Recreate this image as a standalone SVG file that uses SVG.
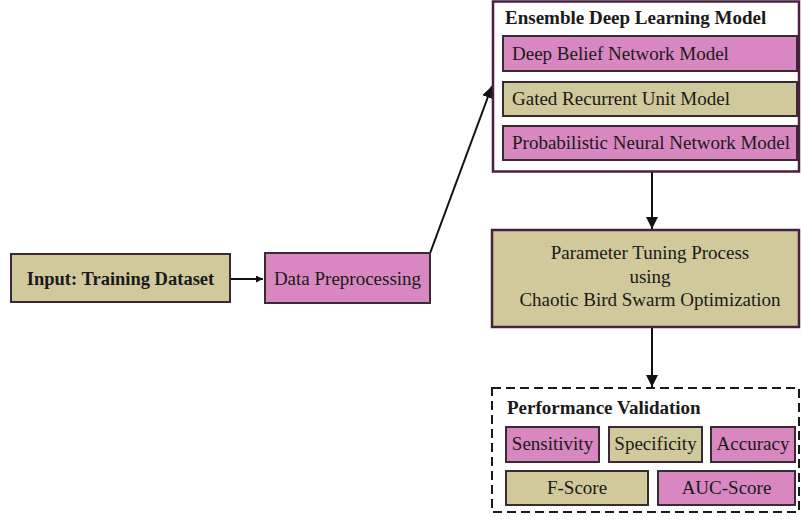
<svg xmlns="http://www.w3.org/2000/svg" width="801" height="525" viewBox="0 0 801 525">
<style>
text{font-family:"Liberation Serif","Times New Roman",serif;font-size:19px;fill:#1a1a1a}
.b{font-weight:bold}
.pk{fill:#d887c0;stroke:#3a2a33;stroke-width:2}
.kh{fill:#cfc99b;stroke:#3a2a33;stroke-width:2}
.outer{fill:#fff;stroke:#4a2040;stroke-width:2.5}
.dash{fill:#fff;stroke:#1a1a1a;stroke-width:2;stroke-dasharray:9,5}
.c{stroke:#111;stroke-width:2;fill:none}
</style>
<defs>
<marker id="ah" viewBox="0 0 10 10" refX="10" refY="5" markerWidth="7" markerHeight="7" markerUnits="userSpaceOnUse" orient="auto">
<path d="M0,0 L10,5 L0,10 z" fill="#111"/>
</marker>
<marker id="ah2" viewBox="0 0 10 10" refX="10" refY="5" markerWidth="12" markerHeight="12" markerUnits="userSpaceOnUse" orient="auto">
<path d="M0,0 L10,5 L0,10 z" fill="#111"/>
</marker>
</defs>
<g id="connectors">
<line class="c" x1="231" y1="279" x2="263" y2="279" marker-end="url(#ah)"/>
<line class="c" x1="429" y1="256" x2="492" y2="86" marker-end="url(#ah2)"/>
<line class="c" x1="652" y1="172" x2="652" y2="229" marker-end="url(#ah2)"/>
<line class="c" x1="652" y1="328" x2="652" y2="387" marker-end="url(#ah2)"/>
</g>
<g id="input">
<rect class="kh" x="11" y="254" width="219" height="48"/>
<text class="b" x="120.5" y="285" text-anchor="middle" style="font-size:18.5px">Input: Training Dataset</text>
</g>
<g id="preprocessing">
<rect class="pk" x="265" y="253" width="165" height="50"/>
<text x="347.5" y="285" text-anchor="middle">Data Preprocessing</text>
</g>
<g id="ensemble">
<rect class="outer" x="493" y="1.5" width="306" height="170"/>
<text class="b" x="505" y="24">Ensemble Deep Learning Model</text>
<g id="dbn">
<rect class="pk" x="503" y="36" width="294" height="35"/>
<text x="512" y="60">Deep Belief Network Model</text>
</g>
<g id="gru">
<rect class="kh" x="503" y="82" width="294" height="34"/>
<text x="512" y="105">Gated Recurrent Unit Model</text>
</g>
<g id="pnn">
<rect class="pk" x="503" y="126" width="294" height="34"/>
<text x="512" y="149">Probabilistic Neural Network Model</text>
</g>
</g>
<g id="tuning">
<rect class="kh" x="492" y="230" width="307" height="97" style="stroke:#4a2040;stroke-width:2.5"/>
<text x="650" y="259" text-anchor="middle">Parameter Tuning Process</text>
<text x="650" y="283" text-anchor="middle">using</text>
<text x="650" y="306" text-anchor="middle">Chaotic Bird Swarm Optimization</text>
</g>
<g id="validation">
<rect class="dash" x="492" y="388" width="307" height="124"/>
<text class="b" x="507" y="414">Performance Validation</text>
<g id="sensitivity">
<rect class="pk" x="506" y="427" width="93" height="35"/>
<text x="552.5" y="450" text-anchor="middle">Sensitivity</text>
</g>
<g id="specificity">
<rect class="kh" x="609" y="427" width="93" height="35"/>
<text x="655.5" y="450" text-anchor="middle">Specificity</text>
</g>
<g id="accuracy">
<rect class="pk" x="711" y="427" width="84" height="35"/>
<text x="753" y="450" text-anchor="middle">Accuracy</text>
</g>
<g id="fscore">
<rect class="kh" x="506" y="471" width="142" height="34"/>
<text x="577" y="494" text-anchor="middle">F-Score</text>
</g>
<g id="auc">
<rect class="pk" x="658" y="471" width="137" height="34"/>
<text x="726.5" y="494" text-anchor="middle">AUC-Score</text>
</g>
</g>
</svg>
